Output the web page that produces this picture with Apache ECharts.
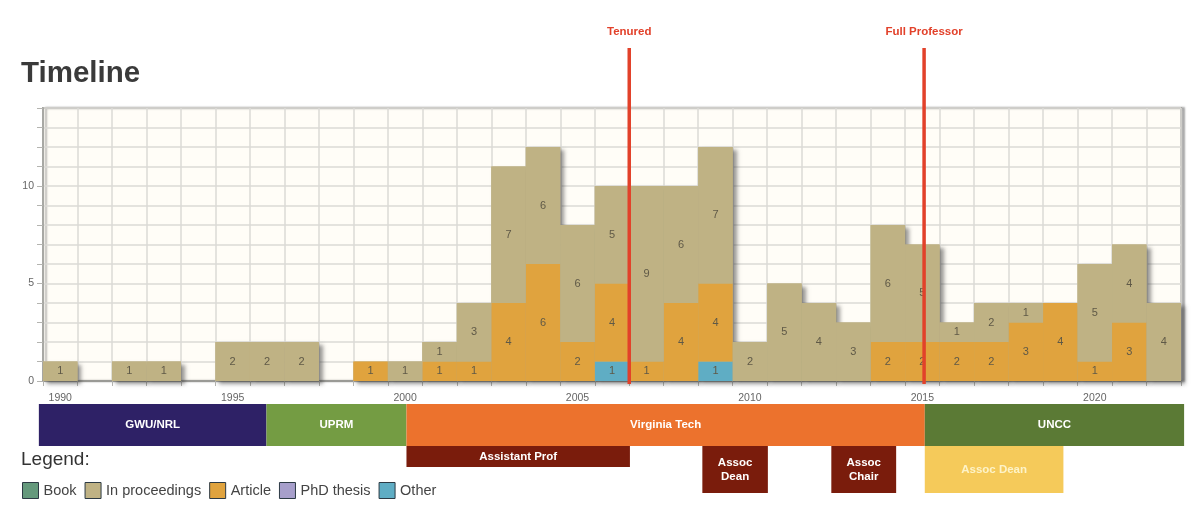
<!DOCTYPE html>
<html>
<head>
<meta charset="utf-8">
<title>Timeline</title>
<script src="https://cdn.jsdelivr.net/npm/echarts@6/dist/echarts.min.js"></script>
<style>
  html, body { margin: 0; padding: 0; background: #fff; }
  #chart { width: 1200px; height: 507px; }
</style>
</head>
<body>
<div id="chart"></div>
<script>
const years = ['1990','1991','1992','1993','1994','1995','1996','1997','1998','1999','2000',
  '2001','2002','2003','2004','2005','2006','2007','2008','2009','2010',
  '2011','2012','2013','2014','2015','2016','2017','2018','2019','2020','2021','2022'];
const other =       [0,0,0,0,0,0,0,0,0,0,0, 0,0,0,0,0,1,0,0,1,0, 0,0,0,0,0,0,0,0,0,0,0,0];
const article =     [0,0,0,0,0,0,0,0,0,1,0, 1,1,4,6,2,4,1,4,4,0, 0,0,0,2,2,2,2,3,4,1,3,0];
const proceedings = [1,0,1,1,0,2,2,2,0,0,1, 1,3,7,6,6,5,9,6,7,2, 5,4,3,6,5,1,2,1,0,5,4,4];

const milestoneNames = ['Tenured', 'Full Professor'];
const milestoneYears = [2007.0, 2015.55];

const placeNames = ['GWU/NRL', 'UPRM', 'Virginia Tech', 'UNCC'];
const placeStarts = [1989.88, 1996.48, 2000.54, 2015.57];
const placeEnds = [1996.48, 2000.54, 2015.57, 2023.09];

const roleNames = ['Assistant Prof', 'Assoc\nDean', 'Assoc\nChair', 'Assoc Dean'];
const roleStarts = [2000.54, 2009.12, 2012.86, 2015.57];
const roleEnds = [2007.02, 2011.02, 2014.74, 2019.59];

// styles
const placeColors = ['#2e2166', '#749c43', '#ec722d', '#5b7a35'];
const roleColors = ['#7a1c0c', '#7a1c0c', '#7a1c0c', '#f5ca5a'];
const roleTextColors = ['#fff', '#fff', '#fff', '#fdf3c8'];
const roleHeights = [21, 47, 47, 47];
const font = '"Liberation Sans", Arial, sans-serif';

// total behind the stack, only there to cast the drop shadow
const totals = years.map((y, i) => other[i] + article[i] + proceedings[i]);

function barSeries(name, values, color) {
  return {
    name: name,
    type: 'bar',
    stack: 'pubs',
    z: 3,
    data: values,
    itemStyle: { color: color },
    label: {
      show: true,
      position: 'inside',
      color: '#5f5947',
      fontSize: 11,
      fontFamily: font,
      formatter: p => (p.value ? p.value : '')
    }
  };
}

function barRange(api) {
  const a = api.coord([api.value(0), 0]);
  const b = api.coord([api.value(1), 0]);
  return { x: a[0], w: b[0] - a[0], base: a[1] };
}

function bandText(text, x, y, color) {
  return {
    type: 'text',
    x: x,
    y: y,
    style: {
      text: text,
      fill: color,
      font: 'bold 11.5px ' + font,
      align: 'center',
      verticalAlign: 'middle',
      lineHeight: 14
    }
  };
}

const chart = echarts.init(document.getElementById('chart'));

chart.setOption({
  animation: false,
  title: [
    { text: 'Timeline', left: 16, top: 54, textStyle: { fontSize: 29.5, fontWeight: 'bold', color: '#3a3a3a', fontFamily: font } },
    { text: 'Legend:', left: 16, top: 445, textStyle: { fontSize: 19, fontWeight: 'normal', color: '#333', fontFamily: font } }
  ],
  legend: {
    left: 17,
    top: 477,
    itemWidth: 16,
    itemHeight: 16,
    itemGap: 8,
    selectedMode: false,
    icon: 'rect',
    itemStyle: { borderColor: '#2c3a44', borderWidth: 1 },
    textStyle: { fontSize: 14.5, color: '#444', fontFamily: font, padding: [3, 0, 0, 0] },
    data: ['Book', 'In proceedings', 'Article', 'PhD thesis', 'Other']
  },
  grid: {
    left: 43,
    right: 19,
    top: 108,
    height: 273,
    show: true,
    backgroundColor: '#fffdf7',
    borderColor: '#a8a8a4',
    borderWidth: 2,
    shadowColor: 'rgba(60,60,60,0.35)',
    shadowBlur: 2,
    shadowOffsetX: 3,
    shadowOffsetY: 0
  },
  xAxis: [
    {
      type: 'category',
      data: years,
      axisLine: { lineStyle: { color: '#9a9a96', width: 2 } },
      axisTick: { show: true, length: 5, interval: 0, lineStyle: { color: '#b4b4b0' } },
      axisLabel: { interval: 4, color: '#666', fontSize: 10.5, margin: 12, fontFamily: font },
      splitLine: { show: true, interval: 0, lineStyle: { color: '#dbdad6', width: 1.5 } }
    },
    // plain year scale for the things that do not sit on whole years
    { type: 'value', min: 1990, max: 2023, show: false }
  ],
  yAxis: {
    type: 'value',
    min: 0,
    max: 14,
    interval: 1,
    axisLine: { show: true, lineStyle: { color: '#a8a8a4', width: 2 } },
    axisTick: { show: true, length: 6, lineStyle: { color: '#b4b4b0' } },
    axisLabel: {
      color: '#666',
      fontSize: 10.5,
      margin: 9,
      fontFamily: font,
      formatter: v => (v % 5 === 0 ? v : '')
    },
    splitLine: { lineStyle: { color: '#dbdad6', width: 1.5 } }
  },
  series: [
    {
      name: 'total',
      type: 'bar',
      z: 2,
      silent: true,
      barGap: '-100%',
      barCategoryGap: 0,
      data: totals,
      itemStyle: {
        color: '#bfb284',
        shadowColor: 'rgba(50,50,50,0.5)',
        shadowBlur: 4,
        shadowOffsetX: 4,
        shadowOffsetY: 3
      }
    },
    barSeries('Other', other, '#5fadc4'),
    barSeries('Article', article, '#e0a33e'),
    barSeries('In proceedings', proceedings, '#bfb284'),
    { name: 'Book', type: 'bar', stack: 'pubs', data: [], itemStyle: { color: '#64997c' } },
    { name: 'PhD thesis', type: 'bar', stack: 'pubs', data: [], itemStyle: { color: '#a79fcb' } },
    {
      name: 'milestones',
      type: 'custom',
      xAxisIndex: 1,
      z: 6,
      silent: true,
      encode: { x: 0 },
      data: milestoneYears.map(y => [y]),
      renderItem: function (params, api) {
        const base = api.coord([api.value(0), 0]);
        const top = api.coord([api.value(0), 14]);
        return {
          type: 'group',
          children: [
            {
              type: 'line',
              shape: { x1: base[0], y1: base[1] + 3, x2: top[0], y2: top[1] - 60 },
              style: { stroke: '#e2412a', lineWidth: 3.5 }
            },
            {
              type: 'text',
              x: top[0],
              y: top[1] - 76,
              style: {
                text: milestoneNames[params.dataIndex],
                fill: '#e2412a',
                font: 'bold 11.5px ' + font,
                align: 'center',
                verticalAlign: 'middle'
              }
            }
          ]
        };
      }
    },
    {
      name: 'places',
      type: 'custom',
      xAxisIndex: 1,
      z: 5,
      silent: true,
      encode: { x: [0, 1] },
      data: placeStarts.map((s, i) => [s, placeEnds[i]]),
      renderItem: function (params, api) {
        const r = barRange(api);
        const top = r.base + 23;
        return {
          type: 'group',
          children: [
            { type: 'rect', shape: { x: r.x, y: top, width: r.w, height: 42 }, style: { fill: placeColors[params.dataIndex] } },
            bandText(placeNames[params.dataIndex], r.x + r.w / 2, top + 21, '#fff')
          ]
        };
      }
    },
    {
      name: 'roles',
      type: 'custom',
      xAxisIndex: 1,
      z: 5,
      silent: true,
      encode: { x: [0, 1] },
      data: roleStarts.map((s, i) => [s, roleEnds[i]]),
      renderItem: function (params, api) {
        const r = barRange(api);
        const top = r.base + 65;
        const h = roleHeights[params.dataIndex];
        return {
          type: 'group',
          children: [
            { type: 'rect', shape: { x: r.x, y: top, width: r.w, height: h }, style: { fill: roleColors[params.dataIndex] } },
            bandText(roleNames[params.dataIndex], r.x + r.w / 2, top + h / 2, roleTextColors[params.dataIndex])
          ]
        };
      }
    }
  ]
});
</script>
</body>
</html>
